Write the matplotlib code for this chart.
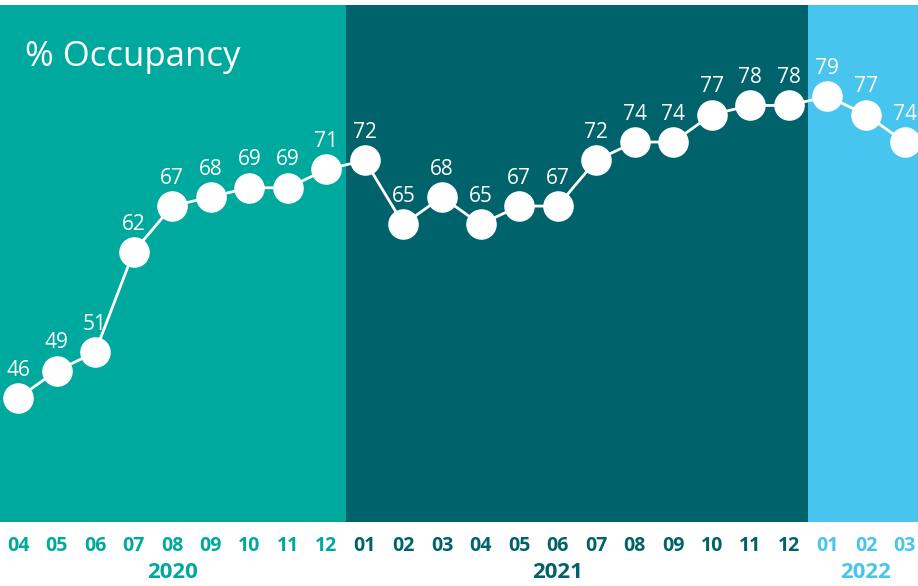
import matplotlib.pyplot as plt
from matplotlib.transforms import blended_transform_factory

plt.rcParams['font.family'] = ['Open Sans', 'DejaVu Sans']

# monthly occupancy, Apr 2020 - Mar 2022
years = ['2020', '2021', '2022']
months = [['04', '05', '06', '07', '08', '09', '10', '11', '12'],
          ['01', '02', '03', '04', '05', '06', '07', '08', '09', '10', '11', '12'],
          ['01', '02', '03']]
occupancy = [[46, 49, 51, 62, 67, 68, 69, 69, 71],
             [72, 65, 68, 65, 67, 67, 72, 74, 74, 77, 78, 78],
             [79, 77, 74]]
year_colors = ['#00A99D', '#00626A', '#47C5EE']

fig = plt.figure(figsize=(9.18, 5.86), dpi=100)
ax = fig.add_axes([0, 0.109, 1, 0.882])

values = [v for ys in occupancy for v in ys]
labels = [m for ms in months for m in ms]
x = list(range(len(values)))

# background bands per year
start = 0
bounds = []
for i, ms in enumerate(months):
    end = start + len(ms)
    ax.axvspan(start - 0.5, end - 0.5, color=year_colors[i], lw=0, zorder=0)
    bounds.append((start, end))
    start = end

ax.plot(x, values, color='white', lw=2, marker='o', markersize=21, zorder=3)
for xi, v in zip(x, values):
    ax.annotate(str(v), (xi, v), xytext=(0, 20), textcoords='offset points',
                ha='center', va='center', color='white', fontsize=15, zorder=4)

ax.set_xlim(-0.467, 23.35)
ax.set_ylim(32.45, 88.95)
ax.set_yticks([])
ax.set_xticks(x)
ax.set_xticklabels(labels, fontsize=14, fontweight='bold')
ax.tick_params(axis='x', length=0, pad=10)
tick_colors = [year_colors[i] for i, ms in enumerate(months) for _ in ms]
for lab, c in zip(ax.get_xticklabels(), tick_colors):
    lab.set_color(c)
for s in ax.spines.values():
    s.set_visible(False)

# year labels under the months
trans = blended_transform_factory(ax.transData, ax.transAxes)
for (s, e), yr, c in zip(bounds, years, year_colors):
    xc = (s + e - 1) // 2
    ax.text(xc, -0.097, yr, transform=trans, ha='center', va='center',
            fontsize=16, fontweight='bold', color=c)

ax.text(0.027, 0.9, '% Occupancy', transform=ax.transAxes, color='white',
        fontsize=25, ha='left', va='center')

fig.savefig('out.png', dpi=100)
